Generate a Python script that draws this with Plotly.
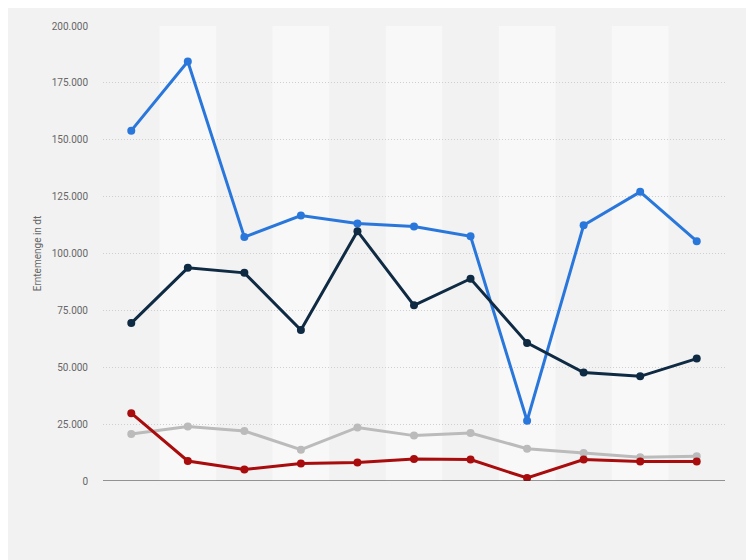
import plotly.graph_objects as go

categories = list(range(11))
blue = [154000, 184400, 107200, 116700, 113200, 111900, 107600, 26500, 112400, 127100, 105400]
navy = [69400, 93700, 91500, 66400, 109800, 77200, 88900, 60700, 47700, 46000, 53800]
grey = [20700, 24000, 22000, 13750, 23550, 19950, 21100, 14200, 12300, 10400, 10850]
red = [29800, 8800, 5070, 7680, 8100, 9670, 9400, 1300, 9400, 8550, 8550]
y_ticks = [0, 25000, 50000, 75000, 100000, 125000, 150000, 175000, 200000]
y_tick_labels = ["0", "25.000", "50.000", "75.000", "100.000", "125.000", "150.000", "175.000", "200.000"]

series = [
    (blue, "#2a77dc"),
    (navy, "#0f2a43"),
    (grey, "#bbbbbb"),
    (red, "#a80c0c"),
]

fig = go.Figure()
for vals, col in series:
    fig.add_trace(go.Scatter(
        x=categories, y=vals, mode="lines+markers",
        line=dict(color=col, width=3),
        marker=dict(color=col, size=8),
        showlegend=False, hoverinfo="skip",
    ))

shapes = []
for i in categories:
    if i % 2 == 1:
        shapes.append(dict(type="rect", xref="x", yref="y", x0=i - 0.5, x1=i + 0.5,
                           y0=0, y1=200000, fillcolor="#f8f8f8", line=dict(width=0), layer="below"))
shapes.append(dict(type="line", xref="paper", yref="y", x0=0, x1=1, y0=0, y1=0,
                   line=dict(color="#333333", width=1), layer="above"))

fig.update_layout(
    width=746, height=552,
    margin=dict(l=95, r=29, t=12, b=79),
    paper_bgcolor="#f2f2f2", plot_bgcolor="#f2f2f2",
    font=dict(family="Roboto, Arial, sans-serif", size=10, color="#666666"),
    shapes=shapes,
    xaxis=dict(range=[-0.5, 10.5], showticklabels=False, showgrid=False, zeroline=False,
               showline=False, ticks=""),
    yaxis=dict(range=[0, 200000], tickvals=y_ticks, ticktext=y_tick_labels,
               showgrid=True, gridcolor="#cfcfcf", griddash="1px,2px", gridwidth=1,
               zeroline=False, showline=False, ticks="", ticklabelstandoff=14,
               title=dict(text="Erntemenge in dt", font=dict(size=10, color="#666666"), standoff=8)),
)

fig.write_html("out.html")
